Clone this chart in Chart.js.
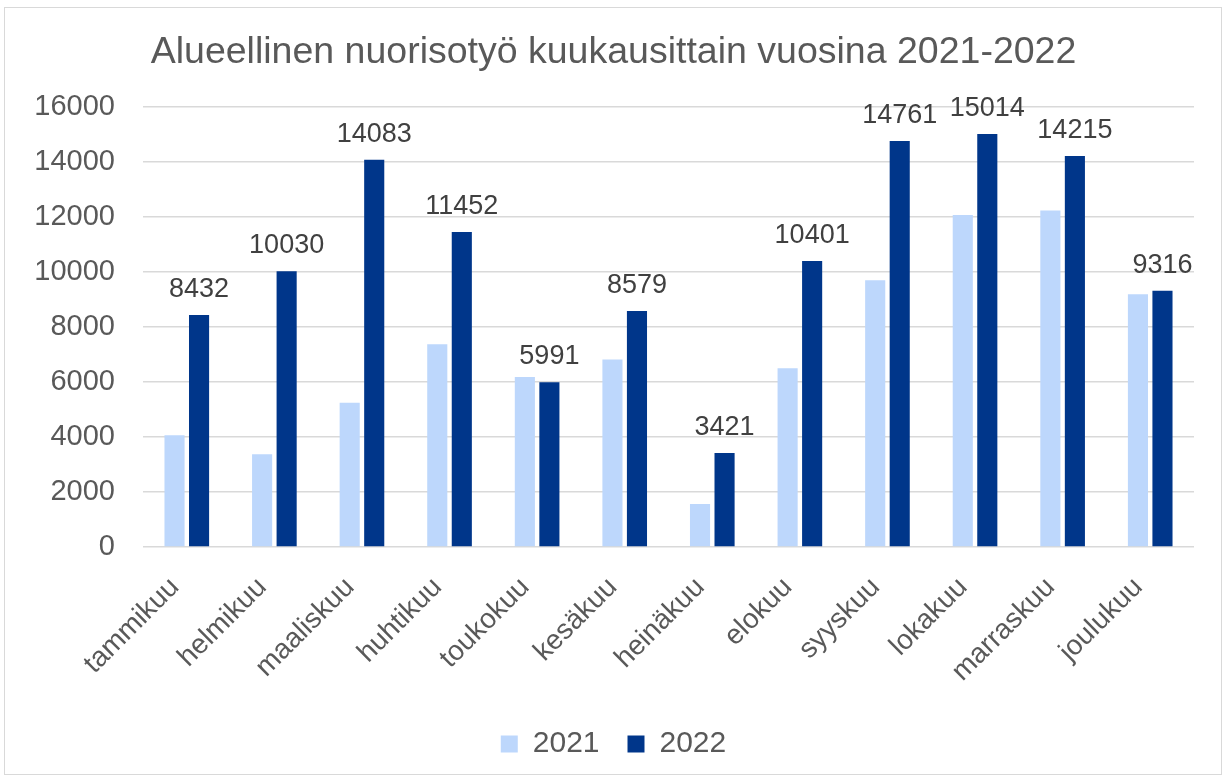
<!DOCTYPE html>
<html>
<head>
<meta charset="utf-8">
<script src="https://cdn.jsdelivr.net/npm/chart.js@4/dist/chart.umd.min.js"></script>
<style>
  html, body { margin: 0; padding: 0; background: #ffffff; }
  #frame { position: absolute; left: 4px; top: 7px; width: 1218px; height: 768px; border: 1px solid #d9d9d9; box-sizing: border-box; }
  #wrap { position: absolute; left: 0; top: 0; width: 1227px; height: 776px; }
</style>
</head>
<body>
<div id="frame"></div>
<div id="wrap"><canvas id="c" width="1227" height="776"></canvas></div>
<script>
const titleText = 'Alueellinen nuorisotyö kuukausittain vuosina 2021-2022';
const months = ['tammikuu','helmikuu','maaliskuu','huhtikuu','toukokuu','kesäkuu','heinäkuu','elokuu','syyskuu','lokakuu','marraskuu','joulukuu'];
const seriesNames = ['2021', '2022'];
const values2021 = [4060, 3370, 5250, 7370, 6180, 6820, 1560, 6500, 9700, 12070, 12240, 9190];
const values2022 = [8432, 10030, 14083, 11452, 5991, 8579, 3421, 10401, 14761, 15014, 14215, 9316];
const yTicks = [0, 2000, 4000, 6000, 8000, 10000, 12000, 14000, 16000];

const FONT = "'Liberation Sans', Arial, sans-serif";
const TEXT = '#595959';

const labelPlugin = {
  id: 'barLabels',
  afterDatasetsDraw(chart) {
    const ctx = chart.ctx;
    const meta = chart.getDatasetMeta(1);
    ctx.save();
    ctx.font = '27px ' + FONT;
    ctx.fillStyle = '#404040';
    ctx.textAlign = 'center';
    ctx.textBaseline = 'alphabetic';
    meta.data.forEach((bar, i) => {
      ctx.fillText(String(values2022[i]), bar.x, bar.y - 18);
    });
    ctx.restore();
  }
};

new Chart(document.getElementById('c'), {
  type: 'bar',
  data: {
    labels: months,
    datasets: [
      { label: seriesNames[0], data: values2021, backgroundColor: '#bdd7fc', borderWidth: 0 },
      { label: seriesNames[1], data: values2022, backgroundColor: '#00368a', borderWidth: 0 }
    ]
  },
  options: {
    responsive: false,
    animation: false,
    devicePixelRatio: 1,
    categoryPercentage: 0.56,
    barPercentage: 0.82,
    layout: { padding: { left: 33, right: 33, top: 0, bottom: 7 } },
    plugins: {
      title: {
        display: true,
        text: titleText,
        color: TEXT,
        font: { family: FONT, size: 37.5, weight: 'normal' },
        padding: { top: 30, bottom: 32 }
      },
      legend: {
        position: 'bottom',
        labels: {
          color: TEXT,
          font: { family: FONT, size: 30 },
          boxWidth: 17,
          boxHeight: 17,
          padding: 28
        }
      },
      tooltip: { enabled: false }
    },
    scales: {
      x: {
        grid: { display: false },
        border: { display: false },
        ticks: {
          color: TEXT,
          font: { family: FONT, size: 28 },
          minRotation: 45,
          maxRotation: 45,
          padding: 16,
          labelOffset: -12
        },
        afterFit(s) { s.height = 154; }
      },
      y: {
        min: 0,
        max: 16000,
        afterBuildTicks(s) { s.ticks = yTicks.map(v => ({ value: v })); },
        grid: { color: '#d9d9d9', lineWidth: 1.5, drawTicks: false },
        border: { display: false },
        ticks: {
          color: TEXT,
          font: { family: FONT, size: 29 },
          padding: 28,
          callback: v => String(v)
        },
        afterFit(s) { s.width = 110; }
      }
    }
  },
  plugins: [labelPlugin]
});
</script>
</body>
</html>
